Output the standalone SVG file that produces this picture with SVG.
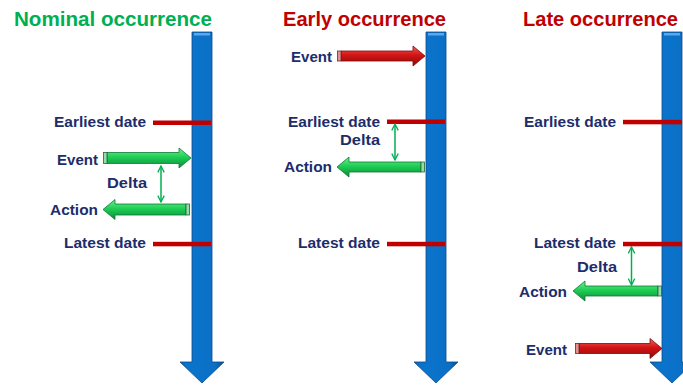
<svg xmlns="http://www.w3.org/2000/svg" width="683" height="385" viewBox="0 0 683 385">
<defs>
  <linearGradient id="barG" x1="0" y1="0" x2="1" y2="0">
    <stop offset="0" stop-color="#1a5fa8"/>
    <stop offset="0.15" stop-color="#0a74cc"/>
    <stop offset="0.8" stop-color="#0a70c6"/>
    <stop offset="1" stop-color="#0a4f92"/>
  </linearGradient>
  <linearGradient id="greenG" x1="0" y1="0" x2="0" y2="1">
    <stop offset="0" stop-color="#6ff08e"/>
    <stop offset="0.45" stop-color="#1fcf55"/>
    <stop offset="1" stop-color="#0a8a3a"/>
  </linearGradient>
  <linearGradient id="redG" x1="0" y1="0" x2="0" y2="1">
    <stop offset="0" stop-color="#f06060"/>
    <stop offset="0.45" stop-color="#d41414"/>
    <stop offset="1" stop-color="#8a0a0a"/>
  </linearGradient>
  <marker id="dh" viewBox="0 0 10 10" refX="9" refY="5" markerWidth="8" markerHeight="8" orient="auto-start-reverse" markerUnits="userSpaceOnUse">
    <path d="M1,1 L9,5 L1,9" fill="none" stroke="#00b050" stroke-width="1.6"/>
  </marker>
</defs>
<style>
  .title{font-family:"Liberation Sans",Arial,sans-serif;font-weight:bold;font-size:21px}
  .lbl{font-family:"Liberation Sans",Arial,sans-serif;font-weight:bold;font-size:15.5px;fill:#1c2d6b;text-anchor:end}
  .bar{fill:url(#barG);stroke:#0b4a8a;stroke-width:0.8}
  .date{fill:#c00000}
  .ga{fill:url(#greenG);stroke:#0b7a34;stroke-width:0.8}
  .ra{fill:url(#redG);stroke:#7a0a0a;stroke-width:0.8}
  .gstub{fill:#8fe0a5;stroke:#2e5e3c;stroke-width:0.8}
  .rstub{fill:#e89090;stroke:#5e2e2e;stroke-width:0.8}
  .delta{stroke:#00b050;stroke-width:1.5;fill:none}
</style>

<!-- Nominal occurrence -->
<g id="nominal">
  <text class="title" x="14" y="26" fill="#00b050" textLength="198" lengthAdjust="spacingAndGlyphs">Nominal occurrence</text>
  <g id="bar1">
    <path class="bar" d="M192,32 H212 V362 H224 L202,383 L180,362 H192 Z"/>
    <rect x="194" y="33" width="16" height="2.5" fill="#5aa8e8"/>
  </g>
  <g id="n-earliest">
    <text class="lbl" x="146" y="127" textLength="92" lengthAdjust="spacingAndGlyphs">Earliest date</text>
    <rect class="date" x="153" y="120.5" width="58" height="4.5"/>
  </g>
  <g id="n-event">
    <text class="lbl" x="98" y="165" textLength="41" lengthAdjust="spacingAndGlyphs">Event</text>
    <path class="ga" d="M107,152.5 H179 V148 L191,158 L179,168 V163.5 H107 Z"/>
    <rect class="gstub" x="103.5" y="152.5" width="3.5" height="11"/>
  </g>
  <g id="n-action">
    <text class="lbl" x="98" y="215" textLength="48" lengthAdjust="spacingAndGlyphs">Action</text>
    <path class="ga" d="M186,204 H115 V199.5 L103,209.5 L115,219.5 V215 H186 Z"/>
    <rect class="gstub" x="186" y="204" width="3.5" height="11"/>
  </g>
  <g id="n-latest">
    <text class="lbl" x="146" y="248" textLength="82" lengthAdjust="spacingAndGlyphs">Latest date</text>
    <rect class="date" x="153" y="241.8" width="58" height="4.5"/>
  </g>
  <g id="n-delta">
    <text class="lbl" x="147" y="188" textLength="40" lengthAdjust="spacingAndGlyphs">Delta</text>
  </g>
</g>

<!-- Early occurrence -->
<g id="early">
  <text class="title" x="283" y="26" fill="#c00000" textLength="163" lengthAdjust="spacingAndGlyphs">Early occurrence</text>
  <g id="bar2">
    <path class="bar" d="M426,32 H446 V362 H458 L436,383 L414,362 H426 Z"/>
    <rect x="428" y="33" width="16" height="2.5" fill="#5aa8e8"/>
  </g>
  <g id="e-event">
    <text class="lbl" x="332" y="62" textLength="41" lengthAdjust="spacingAndGlyphs">Event</text>
    <path class="ra" d="M341,51 H413 V46 L425,56 L413,66 V61 H341 Z"/>
    <rect class="rstub" x="337.5" y="51" width="3.5" height="10"/>
  </g>
  <g id="e-earliest">
    <text class="lbl" x="380" y="127" textLength="92" lengthAdjust="spacingAndGlyphs">Earliest date</text>
    <rect class="date" x="387" y="119.5" width="58" height="4.5"/>
  </g>
  <g id="e-delta">
    <text class="lbl" x="380" y="145" textLength="40" lengthAdjust="spacingAndGlyphs">Delta</text>
  </g>
  <g id="e-action">
    <text class="lbl" x="332" y="172" textLength="48" lengthAdjust="spacingAndGlyphs">Action</text>
    <path class="ga" d="M421,162 H349 V157 L337,167 L349,177 V172 H421 Z"/>
    <rect class="gstub" x="421" y="162" width="3.5" height="10"/>
  </g>
  <g id="e-latest">
    <text class="lbl" x="380" y="248" textLength="82" lengthAdjust="spacingAndGlyphs">Latest date</text>
    <rect class="date" x="387" y="241.8" width="58" height="4.5"/>
  </g>
</g>

<!-- Late occurrence -->
<g id="late">
  <text class="title" x="523" y="26" fill="#c00000" style="font-size:20px" textLength="155" lengthAdjust="spacingAndGlyphs">Late occurrence</text>
  <g id="bar3">
    <path class="bar" d="M662,32 H682 V362 H694 L672,383 L650,362 H662 Z"/>
    <rect x="664" y="33" width="16" height="2.5" fill="#5aa8e8"/>
  </g>
  <g id="l-earliest">
    <text class="lbl" x="616" y="127" textLength="92" lengthAdjust="spacingAndGlyphs">Earliest date</text>
    <rect class="date" x="623" y="119.8" width="59" height="4.5"/>
  </g>
  <g id="l-latest">
    <text class="lbl" x="616" y="248" textLength="82" lengthAdjust="spacingAndGlyphs">Latest date</text>
    <rect class="date" x="623" y="241.8" width="59" height="4.5"/>
  </g>
  <g id="l-delta">
    <text class="lbl" x="617" y="272" textLength="40" lengthAdjust="spacingAndGlyphs">Delta</text>
  </g>
  <g id="l-action">
    <text class="lbl" x="567" y="297" textLength="48" lengthAdjust="spacingAndGlyphs">Action</text>
    <path class="ga" d="M658,286 H585 V281 L573,291 L585,301 V296 H658 Z"/>
    <rect class="gstub" x="658" y="286" width="3.5" height="10"/>
  </g>
  <g id="l-event">
    <text class="lbl" x="567" y="355" textLength="41" lengthAdjust="spacingAndGlyphs">Event</text>
    <path class="ra" d="M579,343.5 H650 V338.5 L662,348.5 L650,358.5 V353.5 H579 Z"/>
    <rect class="rstub" x="575.5" y="343.5" width="3.5" height="10"/>
  </g>
</g>

<g id="connectors">
  <line class="delta" x1="161" y1="166" x2="161" y2="202" marker-start="url(#dh)" marker-end="url(#dh)"/>
  <line class="delta" x1="395" y1="124" x2="395" y2="160" marker-start="url(#dh)" marker-end="url(#dh)"/>
  <line class="delta" x1="631.5" y1="247" x2="631.5" y2="285" marker-start="url(#dh)" marker-end="url(#dh)"/>
</g>
</svg>
